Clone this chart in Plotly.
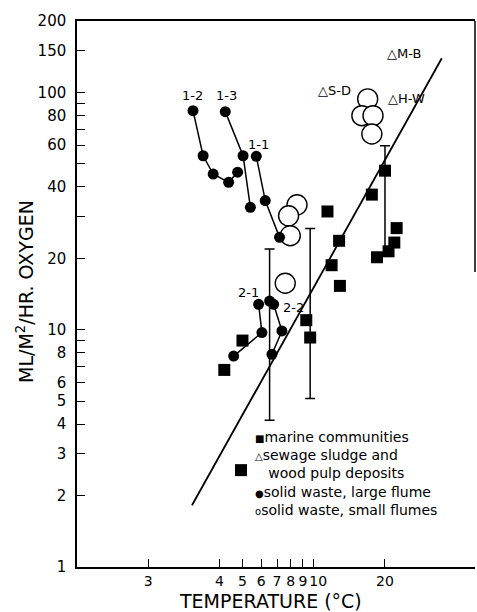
import numpy as np
import plotly.graph_objects as go

# ---------------- data ----------------
# solid waste, large flume (connected groups)
g12_x = [3.09, 3.41, 3.76, 4.37, 4.77]
g12_y = [83.8, 54.1, 45.3, 41.8, 46.1]
g13_x = [4.23, 5.03, 5.40]
g13_y = [83.0, 54.1, 32.8]
g11_x = [5.72, 6.24, 7.17]
g11_y = [53.8, 35.0, 24.5]
g21_x = [5.85, 6.04, 4.59]
g21_y = [12.8, 9.73, 7.74]
g22_x = [6.77, 7.34, 6.66]
g22_y = [12.8, 9.88, 7.88]
lf_extra_x = [6.51]
lf_extra_y = [13.2]

# solid waste, small flumes (open circles)
sf_x = [8.50, 7.83, 7.96, 7.58, 16.9, 15.97, 17.8, 17.6]
sf_y = [33.6, 30.2, 24.9, 15.7, 93.9, 79.8, 79.8, 66.8]

# marine communities (squares)
mc_x = [11.43, 20.0, 17.6, 22.4, 21.9, 20.7, 18.5, 12.8, 11.9, 12.9, 9.30, 9.66, 5.0, 4.19, 4.93]
mc_y = [31.5, 46.8, 37.1, 26.8, 23.3, 21.4, 20.2, 23.7, 18.7, 15.3, 10.97, 9.27, 9.0, 6.77, 2.56]

# ranges (vertical bars)
eb_x = [6.51, 9.66, 20.0]
eb_y = [13.2, 9.27, 46.8]
eb_hi = [21.9, 26.7, 59.6]
eb_lo = [4.15, 5.13, 20.6]

# fitted line end points
fit_x = [3.06, 34.75]
fit_y = [1.82, 139.4]

# axis ticks
x_tickvals = [2, 4, 5, 6, 7, 8, 9, 10, 20]
x_ticktext = ["3", "4", "5", "6", "7", "8", "9", "\u00a0\u00a010", "20"]
y_tickvals = [1, 2, 3, 4, 5, 6, 7, 8, 9, 10, 20, 30, 40, 50, 60, 70, 80, 90, 100, 150, 200]
y_ticktext = ["1", "2", "3", "4", "5", "6", " ", "8", " ", "10", "20", " ", "40", " ", "60", " ", "80", " ", "100", "150", "200"]

# point labels
lab_text = ["1-2", "1-3", "1-1", "2-1", "2-2", "△S-D", "△H-W", "△M-B"]
lab_x = [3.07, 4.27, 5.83, 5.29, 8.19, 12.2, 24.6, 24.1]
lab_y = [96.7, 96.7, 60.6, 14.4, 12.4, 101.5, 93.9, 145.4]

SYM = "<span style='font-size:10px'>%s</span>"
legend_lines = [
    SYM % "■" + "marine communities",
    SYM % "△" + "sewage sludge and",
    "   wood pulp deposits",
    SYM % "●" + "solid waste, large flume",
    SYM % "o" + "solid waste, small flumes",
]

FONT = "DejaVu Sans"
BLACK = "black"

fig = go.Figure()

# range bars
err = [h - c for h, c in zip(eb_hi, eb_y)]
errm = [c - l for c, l in zip(eb_y, eb_lo)]
fig.add_trace(go.Scatter(
    x=eb_x, y=eb_y, mode="markers",
    marker=dict(size=1, color="rgba(0,0,0,0)"),
    error_y=dict(type="data", symmetric=False, array=err, arrayminus=errm,
                 color=BLACK, thickness=1.5, width=5),
    showlegend=False, hoverinfo="skip"))

# fitted line
fig.add_trace(go.Scatter(x=fit_x, y=fit_y, mode="lines",
                         line=dict(color=BLACK, width=1.8), showlegend=False))

# open circles
fig.add_trace(go.Scatter(x=sf_x, y=sf_y, mode="markers",
                         marker=dict(symbol="circle", size=20, color="white",
                                     line=dict(color=BLACK, width=1.4)),
                         showlegend=False))

# large flume groups
for gx, gy in [(g12_x, g12_y), (g13_x, g13_y), (g11_x, g11_y), (g21_x, g21_y), (g22_x, g22_y)]:
    fig.add_trace(go.Scatter(x=gx, y=gy, mode="lines+markers",
                             line=dict(color=BLACK, width=1.5),
                             marker=dict(symbol="circle", size=11, color=BLACK),
                             showlegend=False))
fig.add_trace(go.Scatter(x=lf_extra_x, y=lf_extra_y, mode="markers",
                         marker=dict(symbol="circle", size=11, color=BLACK),
                         showlegend=False))

# marine squares
fig.add_trace(go.Scatter(x=mc_x, y=mc_y, mode="markers",
                         marker=dict(symbol="square", size=12, color=BLACK),
                         showlegend=False))

annotations = []
for t, lx, ly in zip(lab_text, lab_x, lab_y):
    annotations.append(dict(x=np.log10(lx), y=np.log10(ly), xref="x", yref="y",
                            text=t, showarrow=False,
                            font=dict(family=FONT, size=13, color=BLACK)))

# legend text block
leg_x_px = 253
leg_top_px = 427
W, H = 477, 612
ml, mr, mt, mb = 77, 2, 21, 45
pw, ph = W - ml - mr, H - mt - mb
annotations.append(dict(
    x=(leg_x_px - ml) / pw, y=(H - mb - leg_top_px) / ph, xref="paper", yref="paper",
    xanchor="left", yanchor="top", align="left", showarrow=False,
    text="<br>".join(legend_lines),
    font=dict(family=FONT, size=14, color=BLACK)))

# axis titles
annotations.append(dict(
    x=(270 - ml) / pw, y=(H - mb - 601) / ph, xref="paper", yref="paper",
    xanchor="center", yanchor="middle", showarrow=False,
    text="TEMPERATURE (°C)", font=dict(family=FONT, size=19, color=BLACK)))
annotations.append(dict(
    x=(25 - ml) / pw, y=(H - mb - 292) / ph, xref="paper", yref="paper",
    xanchor="center", yanchor="middle", showarrow=False, textangle=-90,
    text="ML/M<sup>2</sup>/HR. OXYGEN", font=dict(family=FONT, size=19, color=BLACK)))

fig.update_layout(
    width=W, height=H,
    margin=dict(l=ml, r=mr, t=mt, b=mb),
    paper_bgcolor="white", plot_bgcolor="white",
    showlegend=False,
    annotations=annotations,
    shapes=[dict(type="line", xref="paper", yref="paper", x0=1, x1=1,
                 y0=1, y1=(H - mb - 272) / ph, line=dict(color=BLACK, width=1.5))],
    xaxis=dict(type="log", range=[0, np.log10(48)], tickvals=x_tickvals, ticktext=x_ticktext,
               ticks="inside", ticklen=8, tickwidth=1.3, tickcolor=BLACK,
               showline=True, linecolor=BLACK, linewidth=1.5, mirror=True,
               showgrid=False, zeroline=False, tickangle=0, ticklabelstandoff=0,
               tickfont=dict(family=FONT, size=14, color=BLACK)),
    yaxis=dict(type="log", range=[0, np.log10(200)], tickvals=y_tickvals, ticktext=y_ticktext,
               ticks="inside", ticklen=8, tickwidth=1.3, tickcolor=BLACK,
               showline=True, linecolor=BLACK, linewidth=1.5,
               showgrid=False, zeroline=False, ticklabelstandoff=6,
               tickfont=dict(family=FONT, size=15, color=BLACK)),
)

fig.write_html("out.html")
